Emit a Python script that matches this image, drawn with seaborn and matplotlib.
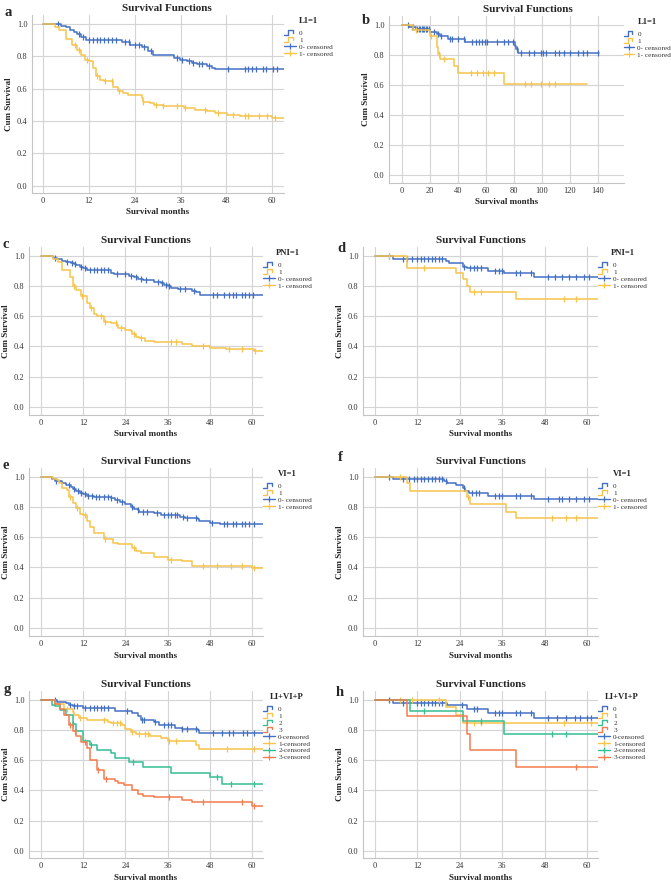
import numpy as np
import pandas as pd
import matplotlib
matplotlib.use("Agg")
import matplotlib.pyplot as plt
import seaborn as sns
from matplotlib.lines import Line2D
from matplotlib.legend_handler import HandlerBase

sns.set_style("white")
plt.rcParams["font.family"] = ["Liberation Serif", "DejaVu Serif"]

BLUE = "#4470c4"
YELLOW = "#f7c34a"
GREEN = "#34bf92"
ORANGE = "#f37b4e"

# ---------------- data (event times, survival after event, censor times) ----------------
# panel a  (L1=1, cohort 1)
A0_T = [4.8, 6, 7, 8, 9, 10, 11.2, 20.6, 22.8, 25.8, 27.6, 28.7, 34.2, 35.9, 37.7, 39, 40.3, 43, 44.2, 45.1]
A0_S = [0.99, 0.98, 0.965, 0.95, 0.935, 0.92, 0.90, 0.89, 0.87, 0.86, 0.835, 0.81, 0.79, 0.78, 0.77, 0.76, 0.75, 0.74, 0.73, 0.72]
A0_C = [4, 9.5, 10.5, 12, 13, 14, 15, 16, 17, 18, 19, 21.5, 22.5, 24, 25, 26.5, 28.2, 35, 36.5, 38.2, 39.2,
        40.8, 41.7, 43.5, 48.5, 52.8, 53.8, 54.8, 55.7, 57.5, 58.3, 60.2, 61.3]
A1_T = [3.1, 4.2, 5.9, 7.7, 8.9, 9.9, 10.9, 12.1, 13.1, 13.8, 14.9, 15.9, 18.2, 19.7, 21.0, 22.3, 25.8, 26.1,
        28.0, 29.1, 31.5, 36.8, 39.7, 42.9, 45.1, 48.2, 51.7, 60.0]
A1_S = [0.98, 0.96, 0.905, 0.87, 0.84, 0.81, 0.78, 0.77, 0.725, 0.68, 0.655, 0.645, 0.607, 0.586, 0.572, 0.562,
        0.545, 0.52, 0.51, 0.50, 0.49, 0.48, 0.47, 0.46, 0.45, 0.44, 0.43, 0.42]
A1_C = [8.3, 9.4, 11.4, 14.2, 16.2, 18.0, 19.9, 26.3, 29.6, 31.5, 35.0, 37.2, 42.4, 45.9, 49.8, 52.8, 53.7,
        56.6, 58.6, 60.7]

# panel b  (L1=1, cohort 2)
B0_T = [5, 10, 20, 25, 27, 33, 45.2, 80.5, 81.5, 83]
B0_S = [0.99, 0.975, 0.955, 0.94, 0.925, 0.909, 0.885, 0.86, 0.84, 0.816]
B0_C = [4, 7, 8, 11, 12, 13, 14, 15, 16, 17, 18, 19, 23, 26, 28, 34, 36, 40, 44, 50, 53, 55, 57, 59, 61, 68,
        73, 76, 79, 82, 85, 91, 94, 99, 101, 103, 109, 112, 116, 120, 126, 129, 132, 140]
B1_T = [8, 20, 25, 26, 27, 37, 40, 73]
B1_S = [0.967, 0.93, 0.856, 0.81, 0.775, 0.73, 0.683, 0.607]
B1_C = [10, 20.5, 26.5, 30, 49.5, 53.8, 57.9, 61.4, 65.5, 88, 92, 99.5, 105, 109]
B_END = [141, 132]

# panel c  (PNI=1, cohort 1)
C0_T = [3.3, 4.5, 6, 7, 8.5, 9.5, 10, 11, 12, 13, 19.9, 20.7, 25, 26.5, 27.5, 29, 32, 34, 35, 36, 37, 39, 43,
        44, 45.3]
C0_S = [0.99, 0.98, 0.97, 0.96, 0.955, 0.945, 0.94, 0.93, 0.92, 0.91, 0.89, 0.88, 0.87, 0.86, 0.85, 0.84,
        0.83, 0.82, 0.81, 0.80, 0.79, 0.78, 0.77, 0.76, 0.74]
C0_C = [4, 7.5, 8.8, 9.8, 11.5, 12.5, 14, 15, 16, 17, 18, 19, 21.5, 24, 25.5, 27, 28.5, 29.8, 33.2, 34.5,
        35.5, 36.5, 39.5, 41, 43.5, 49, 50, 52, 53.5, 54.5, 55.5, 57, 58, 59, 60.2]
C1_T = [3.5, 4.8, 6, 8.3, 9, 10, 11.5, 13, 14, 15, 16, 18, 20, 21.5, 22, 24, 25.5, 26, 27, 28, 29.5, 32, 40,
        43, 48, 52.5, 60.5]
C1_S = [0.98, 0.96, 0.907, 0.858, 0.80, 0.775, 0.735, 0.69, 0.653, 0.615, 0.602, 0.564, 0.555, 0.54, 0.525,
        0.509, 0.50, 0.48, 0.465, 0.455, 0.438, 0.427, 0.415, 0.40, 0.39, 0.38, 0.367]
C1_C = [9.3, 11.8, 14.3, 17, 18.3, 21.2, 22.8, 26.3, 28.3, 37, 38.5, 46, 53.5, 57, 60.8]

# panel d  (PNI=1, cohort 2)
D0_T = [5, 20, 21, 25, 26, 32, 36.5, 45]
D0_S = [0.98, 0.965, 0.955, 0.93, 0.918, 0.903, 0.885, 0.863]
D0_C = [4, 8, 9, 10.5, 12, 13, 14, 15, 16, 17, 18, 19, 25.3, 27, 28, 29, 30, 34, 35, 36, 40, 41, 44, 49, 51,
        53, 55, 57, 59, 60.5]
D1_T = [9, 23, 25, 26, 27, 40]
D1_S = [0.918, 0.885, 0.845, 0.80, 0.763, 0.717]
D1_C = [4, 14, 28, 30, 53.5, 57]

# panel e  (VI=1, cohort 1)
E0_T = [3, 4, 6, 7, 8.5, 9, 10, 11, 12, 13, 15, 17, 20, 21, 22.5, 24, 25.5, 26.5, 27.5, 28, 32, 34, 35, 39.5,
        41, 44.5, 45, 48, 51]
E0_S = [0.985, 0.975, 0.96, 0.945, 0.935, 0.92, 0.91, 0.895, 0.885, 0.875, 0.87, 0.865, 0.86, 0.845, 0.835,
        0.82, 0.80, 0.79, 0.78, 0.77, 0.76, 0.75, 0.745, 0.735, 0.73, 0.72, 0.708, 0.695, 0.686]
E0_C = [4.2, 8, 9.5, 10.5, 11.5, 12.5, 13.5, 14.5, 15.5, 16.5, 18, 19, 20, 21.5, 23, 26, 27.6, 29, 30, 33, 35,
        36, 37, 38, 38.7, 40.5, 41.5, 44.2, 48.5, 52, 53, 54.5, 55.5, 57, 58, 59, 60.5]
E1_T = [3.5, 4.5, 5, 6, 7.5, 8, 9, 10, 11, 12, 13, 14, 15, 18, 20.5, 22, 26, 27, 28.5, 32, 36, 40, 43, 60]
E1_S = [0.99, 0.98, 0.96, 0.925, 0.915, 0.869, 0.83, 0.792, 0.755, 0.75, 0.708, 0.67, 0.63, 0.588, 0.565,
        0.555, 0.527, 0.51, 0.493, 0.467, 0.45, 0.44, 0.412, 0.395]
E1_C = [8.2, 10.2, 12.5, 18.2, 26.3, 37, 46, 50, 54, 57, 60.5]

# panel f  (VI=1, cohort 2)
F0_T = [5, 19.5, 20.5, 23, 25, 25.5, 26.5, 32, 45]
F0_S = [0.99, 0.975, 0.958, 0.945, 0.93, 0.907, 0.892, 0.874, 0.856]
F0_C = [4, 8, 9.5, 11, 12, 13, 14, 15, 16, 17, 18, 19, 20, 25.3, 27.5, 28.5, 29.5, 34, 35, 36, 40, 41, 44, 49,
        52, 53, 55, 57, 59, 60.5]
F1_T = [9, 10, 26, 27, 37, 40]
F1_S = [0.96, 0.909, 0.87, 0.818, 0.77, 0.726]
F1_C = [7, 26.3, 50, 54, 57]

# panel g  (LI+VI+P, cohort 1)
G0_T = [4.5, 7, 8, 9, 12, 21, 26, 27.5, 28.5, 32, 33.5, 38, 40, 44.5, 45]
G0_S = [0.985, 0.975, 0.965, 0.955, 0.945, 0.925, 0.91, 0.89, 0.868, 0.85, 0.831, 0.815, 0.809, 0.80, 0.782]
G0_C = [4, 8.2, 9.5, 10.2, 12.5, 14, 15, 16, 17, 18, 19, 24.5, 28.7, 29.3, 32.5, 35, 36, 37, 40.2, 41.5, 44,
        49, 51.5, 53.5, 54.5, 57.5, 58.5, 60.5]
G1_T = [4, 6.5, 9, 9.5, 10.8, 13, 19, 20, 23, 24, 25.5, 27, 31, 34, 36, 44, 45]
G1_S = [0.97, 0.94, 0.92, 0.90, 0.881, 0.864, 0.855, 0.846, 0.83, 0.806, 0.787, 0.775, 0.758, 0.745, 0.725,
        0.70, 0.672]
G1_C = [7.5, 11.2, 18, 20.5, 21.5, 22.5, 26, 28, 29.5, 30.5, 36.5, 38.5, 53, 60.5]
G2_T = [3.2, 4, 5.5, 7, 9, 10, 12, 14, 16, 20, 21, 25, 29, 37, 48, 51.5]
G2_S = [0.967, 0.955, 0.93, 0.90, 0.842, 0.791, 0.725, 0.699, 0.67, 0.645, 0.615, 0.585, 0.554, 0.516, 0.486,
        0.446]
G2_C = [9.2, 14.3, 26.2, 50, 54, 60.5]
G3_T = [4, 5.5, 6.5, 8, 9, 10, 11.5, 13, 14, 16, 18, 21, 22, 23.5, 26, 27.5, 29, 32, 40, 43, 60]
G3_S = [0.97, 0.94, 0.90, 0.831, 0.79, 0.758, 0.721, 0.68, 0.60, 0.538, 0.473, 0.46, 0.45, 0.435, 0.402, 0.38,
        0.365, 0.354, 0.338, 0.323, 0.299]
G3_C = [8.3, 9.7, 12.5, 16.2, 18.5, 36.5, 46, 57, 60.5]

# panel h  (LI+VI+P, cohort 2)
H0_T = [5, 20.5, 26, 32, 45]
H0_S = [0.98, 0.963, 0.936, 0.91, 0.879]
H0_C = [4, 8, 12, 13, 14, 15, 16, 17, 18, 19, 24.5, 28, 29, 34, 35, 36, 40, 41, 44, 49, 51.5, 54, 56.5, 58,
        60, 61]
H1_T = [20, 23, 25]
H1_S = [0.952, 0.90, 0.844]
H1_C = [7, 10.5, 18, 28, 30, 53.5, 61]
H2_T = [10, 25, 36.5]
H2_S = [0.927, 0.861, 0.774]
H2_C = [14, 30, 50, 54]
H3_T = [9, 26, 27, 40]
H3_S = [0.89, 0.776, 0.668, 0.556]
H3_C = [57]

GROUPS2 = ["0", "1"]
CENS2 = ["0- censored", "1- censored"]
GROUPS4 = ["0", "1", "2", "3"]
CENS4 = ["0-censored", "1-censored", "2-censored", "3-censored"]
XT60 = [0, 12, 24, 36, 48, 60]
XT140 = [0, 20, 40, 60, 80, 100, 120, 140]
YT = [0.0, 0.2, 0.4, 0.6, 0.8, 1.0]

FIG_W, FIG_H = 671, 885

panels = [
    dict(letter="a", box=(32, 284, 15, 193), letter_xy=(8, 12), xlim=(-2.9, 63.1), ylim=(-0.045, 1.055),
         xticks=XT60, tx=0.536, lt="L1=1", groups=GROUPS2, cens=CENS2, hl=1.7,
         curves=[(A0_T, A0_S, A0_C, 70), (A1_T, A1_S, A1_C, 70)], colors=[BLUE, YELLOW]),
    dict(letter="b", box=(389, 624, 16, 183), letter_xy=(366, 21), xlim=(-9.3, 158.6), ylim=(-0.053, 1.06),
         xticks=XT140, tx=0.591, lt="L1=1", groups=GROUPS2, cens=CENS2, hl=1.45,
         curves=[(B0_T, B0_S, B0_C, B_END[0]), (B1_T, B1_S, B1_C, B_END[1])], colors=[BLUE, YELLOW]),
    dict(letter="c", box=(29, 263, 247, 415), letter_xy=(6, 245), xlim=(-3.4, 63.1), ylim=(-0.055, 1.06),
         xticks=XT60, tx=0.5, lt="PNI=1", groups=GROUPS2, cens=CENS2, hl=1.7,
         curves=[(C0_T, C0_S, C0_C, 70), (C1_T, C1_S, C1_C, 70)], colors=[BLUE, YELLOW]),
    dict(letter="d", box=(363, 598, 247, 415), letter_xy=(341, 249), xlim=(-3.4, 63.1), ylim=(-0.055, 1.06),
         xticks=XT60, tx=0.5, lt="PNI=1", groups=GROUPS2, cens=CENS2, hl=1.7,
         curves=[(D0_T, D0_S, D0_C, 70), (D1_T, D1_S, D1_C, 70)], colors=[BLUE, YELLOW]),
    dict(letter="e", box=(29, 263, 468, 636), letter_xy=(6, 465), xlim=(-3.4, 63.1), ylim=(-0.055, 1.06),
         xticks=XT60, tx=0.5, lt="VI=1", groups=GROUPS2, cens=CENS2, hl=1.7,
         curves=[(E0_T, E0_S, E0_C, 70), (E1_T, E1_S, E1_C, 70)], colors=[BLUE, YELLOW]),
    dict(letter="f", box=(363, 598, 468, 636), letter_xy=(340, 457), xlim=(-3.4, 63.1), ylim=(-0.055, 1.06),
         xticks=XT60, tx=0.5, lt="VI=1", groups=GROUPS2, cens=CENS2, hl=1.7,
         curves=[(F0_T, F0_S, F0_C, 70), (F1_T, F1_S, F1_C, 70)], colors=[BLUE, YELLOW]),
    dict(letter="g", box=(29, 263, 691, 858), letter_xy=(7, 689), xlim=(-3.4, 63.1), ylim=(-0.046, 1.057),
         xticks=XT60, tx=0.5, lt="LI+VI+P", groups=GROUPS4, cens=CENS4, hl=1.7,
         curves=[(G0_T, G0_S, G0_C, 70), (G1_T, G1_S, G1_C, 70), (G2_T, G2_S, G2_C, 70),
                 (G3_T, G3_S, G3_C, 70)], colors=[BLUE, YELLOW, GREEN, ORANGE]),
    dict(letter="h", box=(363, 598, 691, 858), letter_xy=(340, 693), xlim=(-3.4, 63.1), ylim=(-0.046, 1.057),
         xticks=XT60, tx=0.5, lt="LI+VI+P", groups=GROUPS4, cens=CENS4, hl=1.7,
         curves=[(H0_T, H0_S, H0_C, 70), (H1_T, H1_S, H1_C, 70), (H2_T, H2_S, H2_C, 70),
                 (H3_T, H3_S, H3_C, 70)], colors=[BLUE, YELLOW, GREEN, ORANGE]),
]


def surv_at(times, surv, t):
    s = 1.0
    for ti, si in zip(times, surv):
        if ti <= t:
            s = si
    return s


class StepHandler(HandlerBase):
    def create_artists(self, legend, orig_handle, xdescent, ydescent, width, height, fontsize, trans):
        xs = np.array([0.0, 0.35, 0.35, 0.75, 0.75]) * width - xdescent
        ys = np.array([0.0, 0.0, 0.95, 0.95, 0.45]) * height - ydescent
        ln = Line2D(xs, ys, color=orig_handle.get_color(), lw=1.0, transform=trans)
        return [ln]


fig = plt.figure(figsize=(FIG_W / 100, FIG_H / 100), dpi=100)
fig.patch.set_facecolor("white")

for p in panels:
    l, r, t, b = p["box"]
    w_px, h_px = r - l, b - t
    ax = fig.add_axes([l / FIG_W, 1 - b / FIG_H, w_px / FIG_W, h_px / FIG_H])
    for (T, S, C, end), col in zip(p["curves"], p["colors"]):
        xs = [0.0] + list(T) + [end]
        ys = [1.0] + list(S) + [S[-1]]
        sns.lineplot(x=xs, y=ys, ax=ax, color=col, lw=1.1, drawstyle="steps-post",
                     estimator=None, sort=False, legend=False)
        cy = [surv_at(T, S, c) for c in C]
        sns.lineplot(x=C, y=cy, ax=ax, color=col, marker="|", linestyle="none", markersize=4.5,
                     markeredgewidth=0.9, markeredgecolor=col, estimator=None, sort=False, legend=False)
    ax.set_xlim(*p["xlim"])
    ax.set_ylim(*p["ylim"])
    ax.set_xticks(p["xticks"])
    ax.set_xticklabels([str(v) for v in p["xticks"]])
    ax.set_yticks(YT)
    ax.set_yticklabels([f"{v:.1f}" for v in YT])
    ax.grid(True, color="#d4d4d4", lw=0.8)
    ax.set_axisbelow(True)
    for s in ["top", "right"]:
        ax.spines[s].set_visible(False)
    for s in ["left", "bottom"]:
        ax.spines[s].set_color("#c4c4c4")
        ax.spines[s].set_linewidth(0.8)
    ax.tick_params(length=2.2, width=0.8, color="#c4c4c4", labelsize=6, labelcolor="#333333", pad=1)
    ax.set_title("Survival Functions", fontsize=8, fontweight="bold", pad=3, x=p["tx"])
    ax.set_xlabel("Survival months", fontsize=6.5, fontweight="bold")
    ax.set_ylabel("Cum Survival", fontsize=6.5, fontweight="bold")
    ax.xaxis.set_label_coords(0.5, -15.5 / h_px)
    ax.yaxis.set_label_coords(-19 / w_px, 0.5)

    ghandles = [Line2D([], [], color=c) for c in p["colors"]]
    chandles = [Line2D([], [], color=c, lw=1.0, marker="|", markersize=5, markeredgewidth=0.9)
                for c in p["colors"]]
    hmap = {h: StepHandler() for h in ghandles}
    leg = ax.legend(ghandles + chandles, p["groups"] + p["cens"], title=p["lt"], loc="upper left",
                    bbox_to_anchor=(1.0, 1.0 - 2.0 / h_px), frameon=False, fontsize=5.2,
                    title_fontproperties={"weight": "bold", "size": 6.2}, handlelength=p["hl"],
                    handletextpad=0.4, labelspacing=0.12, borderpad=0, borderaxespad=0,
                    handler_map=hmap)
    leg._legend_box.sep = 3.5
    for txt in leg.get_texts():
        txt.set_color("#333333")

    lx, ly = p["letter_xy"]
    fig.text(lx / FIG_W, 1 - ly / FIG_H, p["letter"], fontsize=10.5, fontweight="bold",
             ha="center", va="center")

fig.savefig("out.png", dpi=100, facecolor="white")
